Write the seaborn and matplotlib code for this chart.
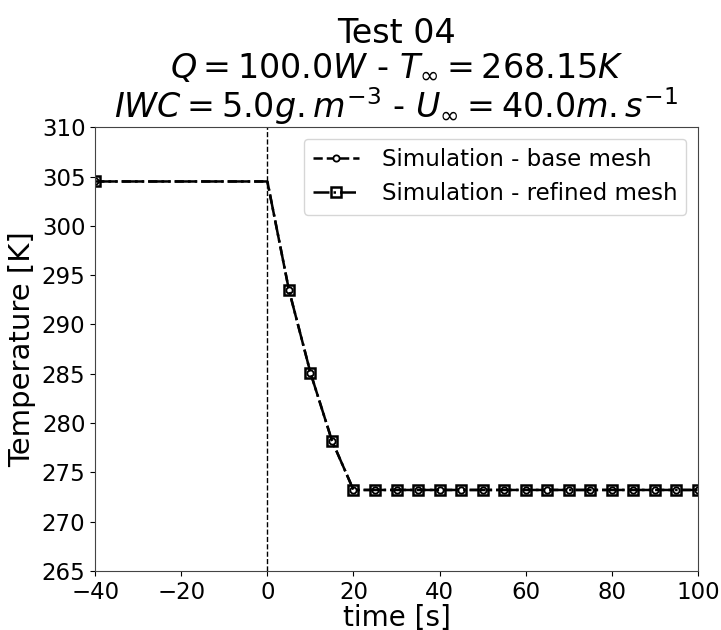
import pandas as pd
import seaborn as sns
import matplotlib.pyplot as plt

# Datos (Test 04)
tiempo_s = [-40, 0, 5, 10, 15, 20, 25, 30, 35, 40, 45, 50, 55, 60,
            65, 70, 75, 80, 85, 90, 95, 100]
temp_base_K = [304.5, 304.5, 293.5, 285.1, 278.2, 273.2, 273.2, 273.2,
               273.2, 273.2, 273.2, 273.2, 273.2, 273.2, 273.2, 273.2,
               273.2, 273.2, 273.2, 273.2, 273.2, 273.2]
temp_refinado_K = [304.5, 304.5, 293.5, 285.1, 278.2, 273.2, 273.2, 273.2,
                   273.2, 273.2, 273.2, 273.2, 273.2, 273.2, 273.2, 273.2,
                   273.2, 273.2, 273.2, 273.2, 273.2, 273.2]
etiquetas = ["Simulation - base mesh", "Simulation - refined mesh"]

TITULO = ("Test 04\n"
          r"$Q = 100.0W$ - $T_{\infty} = 268.15K$" "\n"
          r"$IWC = 5.0g.m^{-3}$ - $U_{\infty} = 40.0m.s^{-1}$")


def graficar():
    sns.set_style("ticks")
    plt.rcParams['font.family'] = ['DejaVu Sans']
    plt.rcParams['mathtext.fontset'] = 'dejavusans'
    plt.rcParams['text.color'] = 'black'
    plt.rcParams['axes.labelcolor'] = 'black'
    plt.rcParams['xtick.color'] = 'black'
    plt.rcParams['ytick.color'] = 'black'

    df = pd.DataFrame({
        'time': tiempo_s,
        'base': temp_base_K,
        'refinado': temp_refinado_K,
    })
    # sin marcador en t = 0
    marcas = [i for i in range(len(tiempo_s)) if i != 1]

    fig = plt.figure(figsize=(7.21, 6.30), dpi=100)
    ax = fig.add_axes([0.132, 0.094, 0.836, 0.704])

    sns.lineplot(data=df, x='time', y='base', ax=ax, color='black',
                 linestyle='--', linewidth=1.8, marker='o', markersize=4.5,
                 markerfacecolor='white', markeredgecolor='black',
                 markeredgewidth=1.3, markevery=marcas, label=etiquetas[0])
    sns.lineplot(data=df, x='time', y='refinado', ax=ax, color='black',
                 linestyle='-.', linewidth=1.8, marker='s', markersize=7,
                 markerfacecolor='none', markeredgecolor='black',
                 markeredgewidth=1.8, markevery=marcas, label=etiquetas[1])

    ax.axvline(0, color='black', linestyle='--', linewidth=1)

    ax.set_xlim(-40, 100)
    ax.set_ylim(265, 310)
    ax.set_xticks([-40, -20, 0, 20, 40, 60, 80, 100])
    ax.set_yticks([265, 270, 275, 280, 285, 290, 295, 300, 305, 310])
    ax.tick_params(labelsize=16.5)
    ax.set_xlabel('time [s]', fontsize=20, labelpad=0)
    ax.set_ylabel('Temperature [K]', fontsize=21, labelpad=4)
    ax.set_title(TITULO, fontsize=24, linespacing=1.05, pad=5)

    for s in ax.spines.values():
        s.set_color('#444444')

    ax.legend(loc='upper right', fontsize=16.5, handlelength=2.0,
              handletextpad=1.0, borderaxespad=0.5)

    fig.savefig('out.png', dpi=100)
    plt.close(fig)


if __name__ == "__main__":
    graficar()
